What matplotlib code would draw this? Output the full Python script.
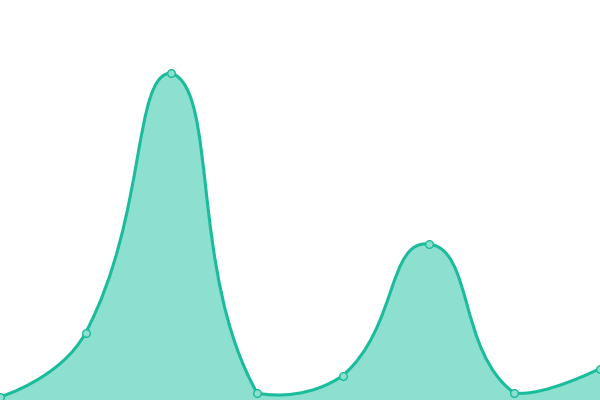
import numpy as np
import matplotlib
matplotlib.use("Agg")
import matplotlib.pyplot as plt
from matplotlib.path import Path
from matplotlib.patches import PathPatch

# category positions and series values
categories = list(range(8))
values = [3, 67.5, 327, 7, 24.5, 156, 7, 31.5]

LINE = "#1abc9c"
FILL = "#8ddfcf"
SMOOTH = 0.5

fig = plt.figure(figsize=(6, 4), dpi=100)
ax = fig.add_axes([0, 0, 1, 1])
ax.set_xlim(0, len(categories) - 1)
ax.set_ylim(0, 400)
ax.axis("off")


def smooth_path(xs, ys, sx, sy):
    # echarts-like smoothing: control points from neighbour vectors, split by segment
    # length, then clamped to the bounding box of the points
    px = np.asarray(xs, float) * sx
    py = np.asarray(ys, float) * sy
    xmin, xmax, ymin, ymax = px.min(), px.max(), py.min(), py.max()
    n = len(px)
    cps_in, cps_out = [], []
    for i in range(n):
        if i == 0 or i == n - 1:
            cps_in.append((px[i], py[i])); cps_out.append((px[i], py[i]))
            continue
        vx = (px[i + 1] - px[i - 1]) * SMOOTH
        vy = (py[i + 1] - py[i - 1]) * SMOOTH
        l0 = np.hypot(px[i] - px[i - 1], py[i] - py[i - 1])
        l1 = np.hypot(px[i + 1] - px[i], py[i + 1] - py[i])
        d0, d1 = l0 / (l0 + l1), l1 / (l0 + l1)
        c0 = (np.clip(px[i] - vx * d0, xmin, xmax), np.clip(py[i] - vy * d0, ymin, ymax))
        c1 = (np.clip(px[i] + vx * d1, xmin, xmax), np.clip(py[i] + vy * d1, ymin, ymax))
        cps_in.append(c0); cps_out.append(c1)
    verts = [(px[0], py[0])]
    codes = [Path.MOVETO]
    for i in range(n - 1):
        verts += [cps_out[i], cps_in[i + 1], (px[i + 1], py[i + 1])]
        codes += [Path.CURVE4] * 3
    verts = [(x / sx, y / sy) for x, y in verts]
    return verts, codes


sx = 600 / (len(categories) - 1)
verts, codes = smooth_path(categories, values, sx, 1.0)

# area under the curve
area_verts = verts + [(categories[-1], 0), (categories[0], 0), verts[0]]
area_codes = codes + [Path.LINETO, Path.LINETO, Path.CLOSEPOLY]
ax.add_patch(PathPatch(Path(area_verts, area_codes), facecolor=FILL, edgecolor="none", zorder=1))
ax.add_patch(PathPatch(Path(verts, codes), facecolor="none", edgecolor=LINE, lw=2.2, zorder=2,
                       capstyle="round", joinstyle="round"))

ax.plot(categories, values, ls="none", marker="o", ms=5.5, mfc=FILL, mec=LINE, mew=1.0, zorder=3)

fig.savefig("out.png", dpi=100)
